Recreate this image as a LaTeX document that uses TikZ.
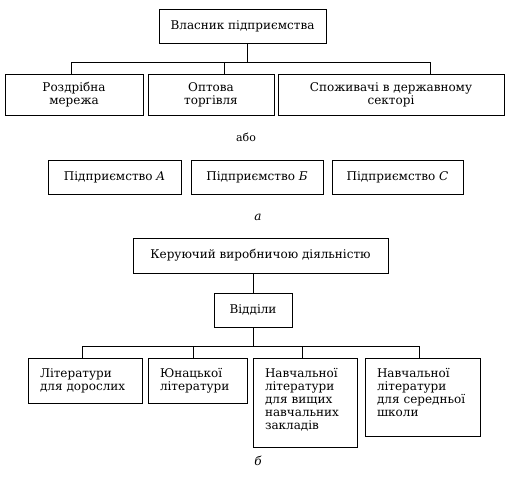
\documentclass[tikz,border=0pt]{standalone}
\usepackage{fontspec}
\setmainfont{DejaVu Serif}
\usetikzlibrary{positioning}

\begin{document}
\begin{tikzpicture}[
    x=1pt, y=-1pt,
    font=\fontsize{12}{13}\selectfont,
    line width=0.6pt,
    box/.style={rectangle, draw, inner sep=0pt, align=center},
    deptbox/.style={rectangle, draw, anchor=north, align=left,
        inner xsep=12pt, inner ysep=6pt, text height=13pt}
]
\useasboundingbox (0,0) rectangle (510,476);

% Variant a: owner and sales channels
\node[box, minimum width=167pt, minimum height=34pt] (owner) at (242.5,26) {Власник підприємства};
\node[box, minimum width=138pt, minimum height=41pt] (retail) at (74,94.5) {Роздрібна\\мережа};
\node[box, minimum width=126pt, minimum height=41pt] (wholesale) at (211,94.5) {Оптова\\торгівля};
\node[box, minimum width=226pt, minimum height=41pt] (state) at (391,94.5) {Споживачі в державному\\секторі};

\coordinate (hub1) at (247,62.5);
\draw (owner.south -| hub1) -- (hub1);
\draw ([xshift=-3pt]retail.north) |- ([xshift=39pt]state.north |- hub1) -- ([xshift=39pt]state.north);
\draw ([xshift=13pt]wholesale.north) -- ([xshift=13pt]wholesale.north |- hub1);

\node[font=\fontsize{11}{12}\selectfont] (orlabel) at (246,137) {або};

\node[box, minimum width=133pt, minimum height=34pt] (firmA) at (114.5,177) {Підприємство \textit{A}};
\node[box, minimum width=132pt, minimum height=34pt] (firmB) at (257,177) {Підприємство \textit{Б}};
\node[box, minimum width=131pt, minimum height=34pt] (firmC) at (397.5,177) {Підприємство \textit{C}};

\node[font=\fontsize{12}{13}\selectfont\itshape] (capa) at (258,217) {а};

% Variant b: production management
\node[box, minimum width=255pt, minimum height=35pt] (manager) at (260.5,255.5) {Керуючий виробничою діяльністю};
\node[box, minimum width=78pt, minimum height=34pt] (depts) at (253,310) {Відділи};
\draw (depts.north) -- (depts.north |- manager.south);

\node[deptbox, text width=90pt, text depth=20pt] (adult) at (85,358) {Літератури\\для~дорослих};
\node[deptbox, text width=75pt, text depth=20pt] (youth) at (197.5,358) {Юнацької\\літератури};
\node[deptbox, text width=80pt, text depth=64pt] (higher) at (305,358) {Навчальної\\літератури\\для~вищих\\навчальних\\закладів};
\node[deptbox, text width=91pt, text depth=53pt] (school) at (422.5,358) {Навчальної\\літератури\\для~середньої\\школи};

\coordinate (hub2) at (252,346.5);
\draw (depts.south) -- (depts.south |- hub2);
\draw ([xshift=-3pt]adult.north) |- ([xshift=-3.5pt]school.north |- hub2) -- ([xshift=-3.5pt]school.north);
\draw ([xshift=-4.5pt]youth.north) -- ([xshift=-4.5pt]youth.north |- hub2);
\draw ([xshift=-3pt]higher.north) -- ([xshift=-3pt]higher.north |- hub2);

\node[font=\fontsize{12}{13}\selectfont\itshape] (capb) at (258,461) {б};
\end{tikzpicture}
\end{document}
